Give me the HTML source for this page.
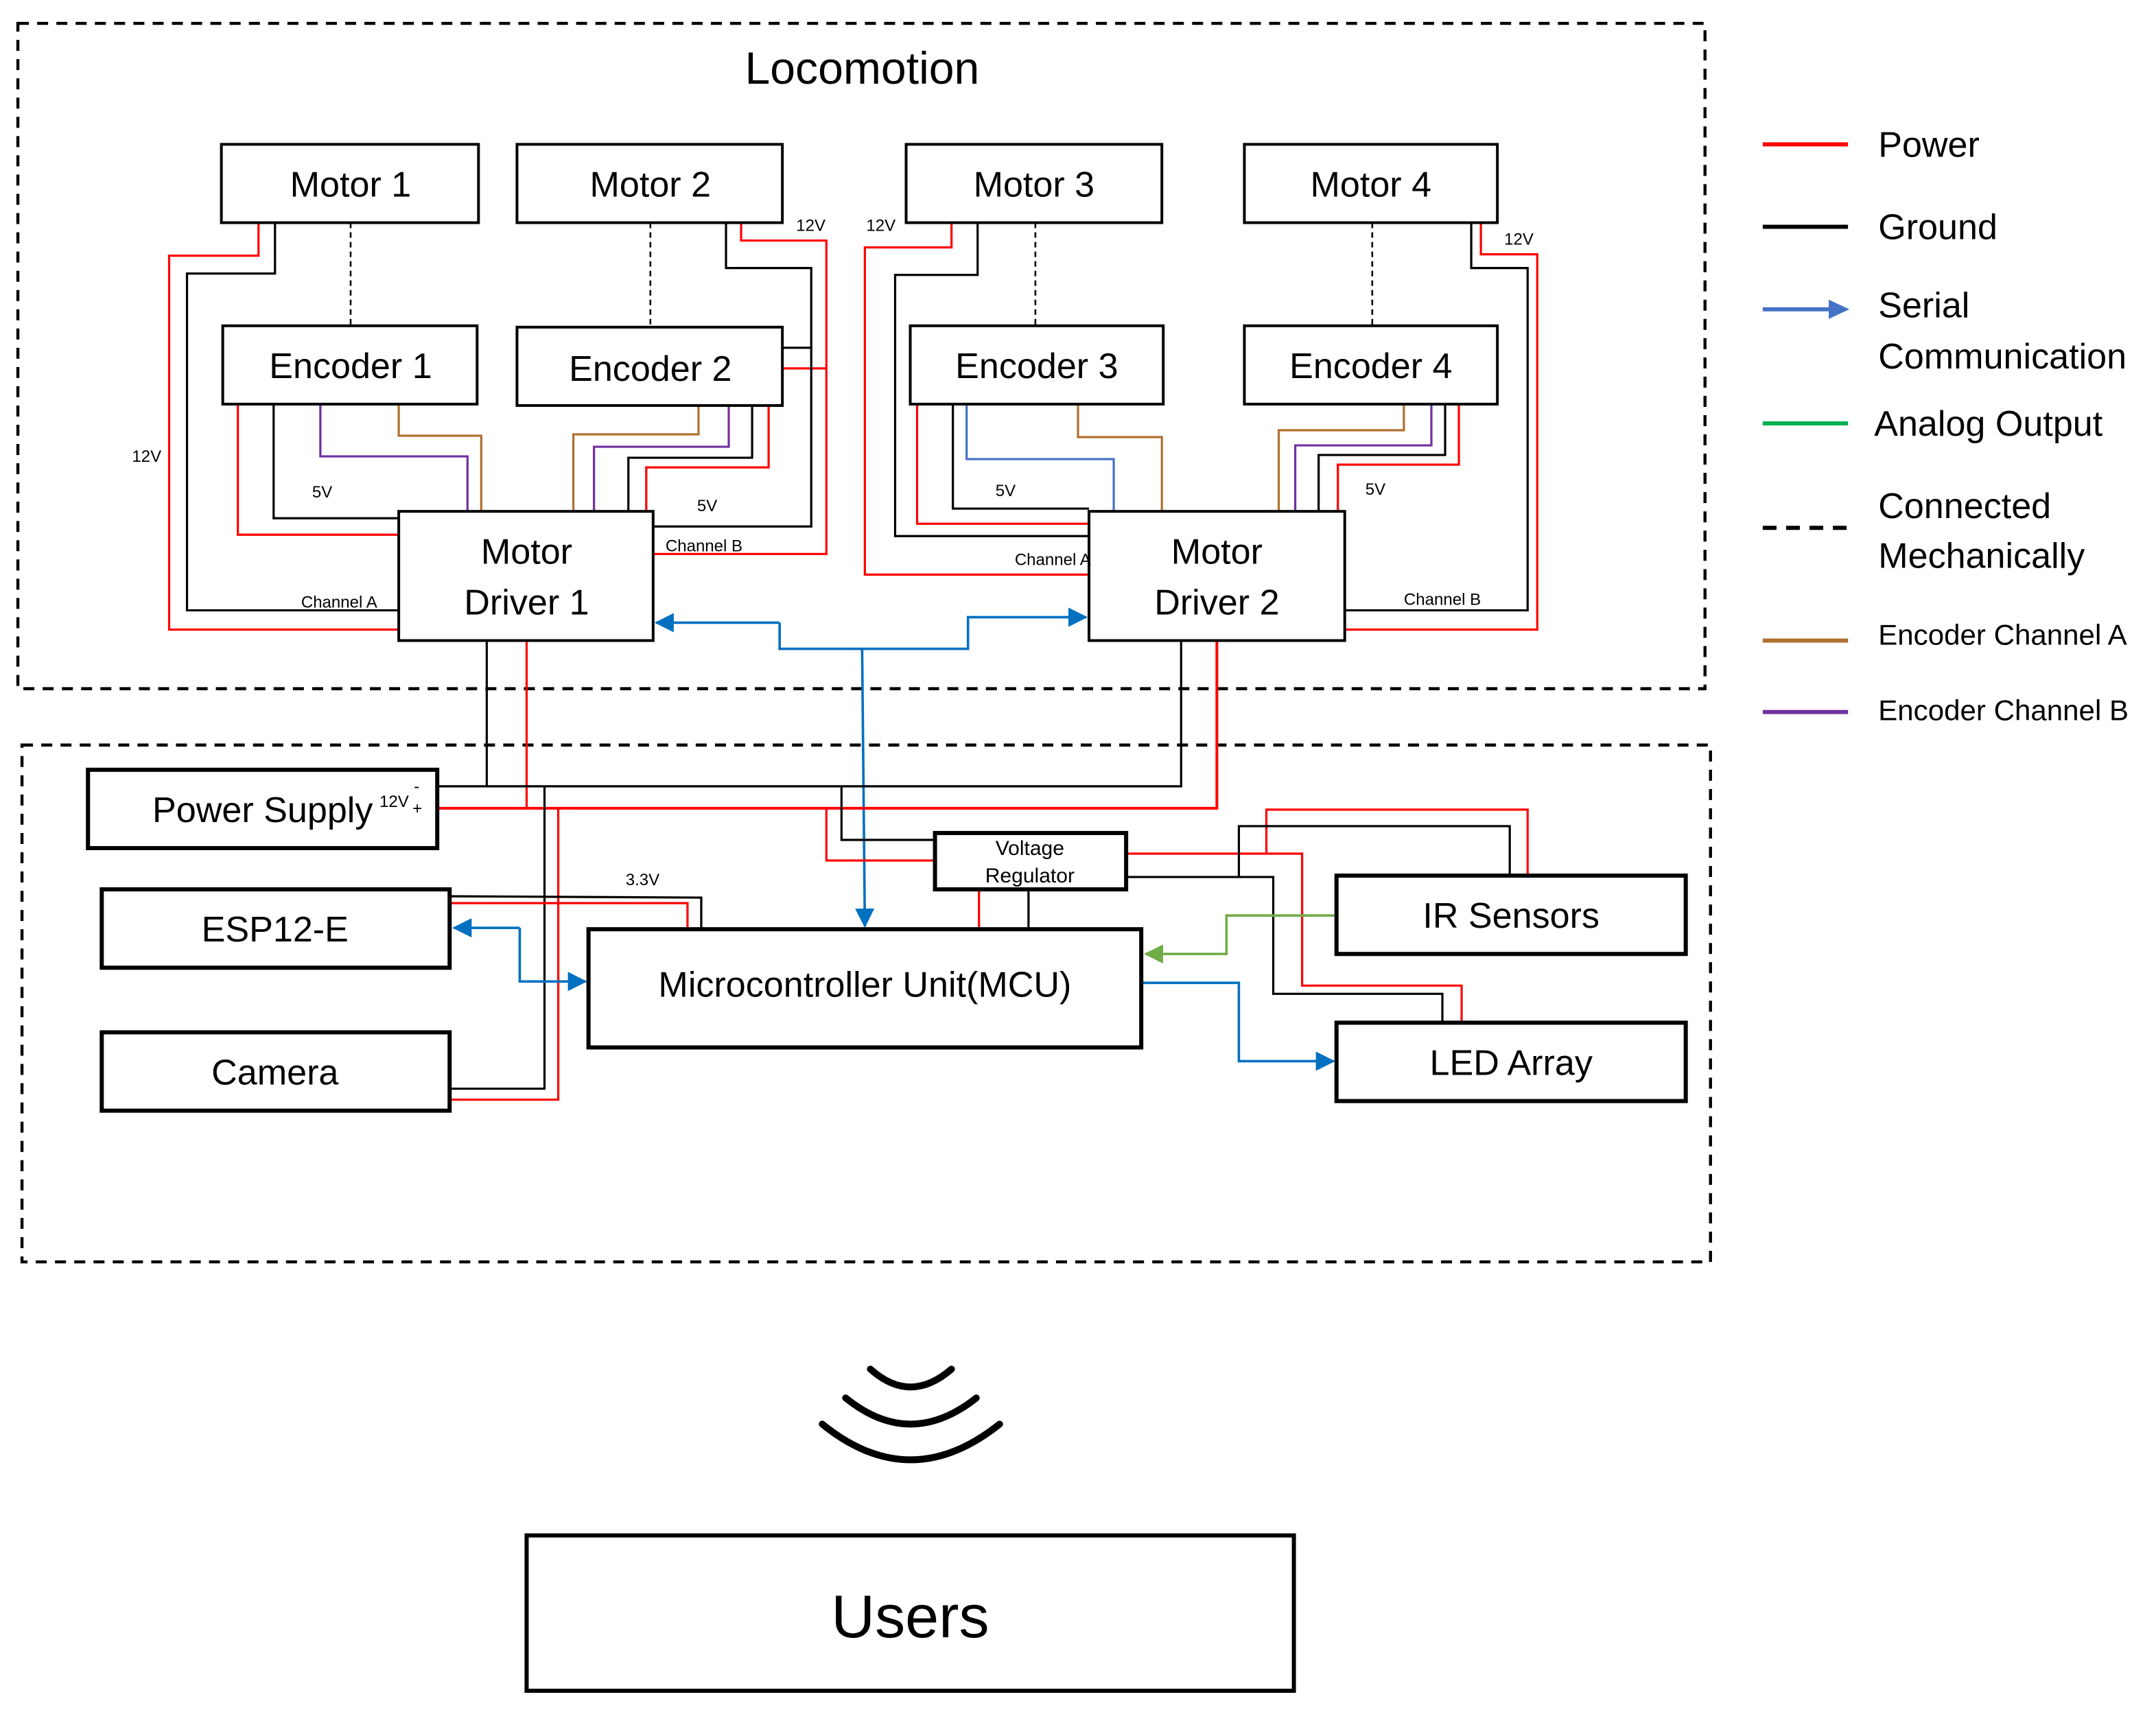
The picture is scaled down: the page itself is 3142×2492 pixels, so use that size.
<!DOCTYPE html>
<html><head><meta charset="utf-8"><style>
html,body{margin:0;padding:0;background:#fff}
svg{display:block}
text{font-family:"Liberation Sans",sans-serif;fill:#000}
</style></head><body>
<svg width="3142" height="2492" viewBox="0 0 1568 1244" preserveAspectRatio="none" xmlns="http://www.w3.org/2000/svg">
<defs>
<marker id="ab" markerWidth="14" markerHeight="14" refX="13" refY="7" orient="auto" markerUnits="userSpaceOnUse"><path d="M0,0 L14,7 L0,14 z" fill="#0070c0"/></marker>
<marker id="ag" markerWidth="14" markerHeight="14" refX="13" refY="7" orient="auto" markerUnits="userSpaceOnUse"><path d="M0,0 L14,7 L0,14 z" fill="#70ad47"/></marker>
</defs>
<rect x="0" y="0" width="1568" height="1244" fill="#fff"/>
<rect x="13" y="17" width="1227" height="484" fill="none" stroke="#000" stroke-width="2.2" stroke-dasharray="8,6"/>
<rect x="16" y="542" width="1228" height="376" fill="none" stroke="#000" stroke-width="2.2" stroke-dasharray="8,6"/>
<text x="627" y="61" font-size="33" text-anchor="middle">Locomotion</text>

<g fill="none" stroke-width="1.6">
<g stroke="#000" stroke-dasharray="4,3" stroke-width="1.3">
<line x1="255" y1="162" x2="255" y2="237"/><line x1="473" y1="162" x2="473" y2="238"/>
<line x1="753" y1="162" x2="753" y2="237"/><line x1="998" y1="162" x2="998" y2="237"/>
</g>
<polyline stroke="#f00" points="188,162 188,186 123,186 123,458 290,458"/>
<polyline stroke="#000" points="200,162 200,199 136,199 136,444 290,444"/>
<polyline stroke="#f00" points="173,294 173,389 290,389"/>
<polyline stroke="#000" points="199,294 199,377 290,377"/>
<polyline stroke="#7030a0" points="233,294 233,332 340,332 340,372"/>
<polyline stroke="#b07030" points="290,294 290,317 350,317 350,372"/>
<polyline stroke="#b07030" points="508,295 508,316 417,316 417,372"/>
<polyline stroke="#7030a0" points="530,295 530,325 432,325 432,372"/>
<polyline stroke="#000" points="547,295 547,333 457,333 457,372"/>
<polyline stroke="#f00" points="559,295 559,340 470,340 470,372"/>
<polyline stroke="#f00" points="539,162 539,175 601,175 601,403 475,403"/>
<line stroke="#f00" x1="569" y1="268" x2="601" y2="268"/>
<polyline stroke="#000" points="528,162 528,195 590,195 590,383 475,383"/>
<line stroke="#000" x1="569" y1="253" x2="590" y2="253"/>
<polyline stroke="#f00" points="692,162 692,180 629,180 629,418 792,418"/>
<polyline stroke="#000" points="711,162 711,200 651,200 651,390 792,390"/>
<polyline stroke="#f00" points="667,294 667,381 792,381"/>
<polyline stroke="#000" points="693,294 693,370 792,370"/>
<polyline stroke="#4472c4" points="703,294 703,334 810,334 810,372"/>
<polyline stroke="#b07030" points="784,294 784,318 845,318 845,372"/>
<polyline stroke="#b07030" points="1021,294 1021,313 930,313 930,372"/>
<polyline stroke="#7030a0" points="1041,294 1041,324 942,324 942,372"/>
<polyline stroke="#000" points="1051,294 1051,331 959,331 959,372"/>
<polyline stroke="#f00" points="1061,294 1061,338 973,338 973,372"/>
<polyline stroke="#f00" points="1077,162 1077,185 1118,185 1118,458 978,458"/>
<polyline stroke="#000" points="1070,162 1070,195 1111,195 1111,444 978,444"/>

<polyline stroke="#0070c0" stroke-width="1.8" points="567,453 567,472 704,472 704,449 790,449" marker-end="url(#ab)"/>
<polyline stroke="#0070c0" stroke-width="1.8" points="567,453 477,453" marker-end="url(#ab)"/>
<polyline stroke="#0070c0" stroke-width="1.8" points="627,472 629,674" marker-end="url(#ab)"/>

<polyline stroke="#000" points="354,466 354,572"/>
<polyline stroke="#f00" points="383,466 383,588"/>
<polyline stroke="#000" points="859,466 859,572 318,572"/>
<polyline stroke="#f00" stroke-width="2" points="885,466 885,588 318,588"/>
<polyline stroke="#000" points="327,792 396,792 396,572"/>
<polyline stroke="#f00" points="327,800 406,800 406,588"/>
<polyline stroke="#000" points="327,652 510,653 510,676"/>
<polyline stroke="#f00" points="327,657 500,657 500,676"/>
<polyline stroke="#000" points="612,572 612,611 680,611"/>
<polyline stroke="#f00" points="601,588 601,626 680,626"/>
<line stroke="#f00" x1="712" y1="647" x2="712" y2="676"/>
<line stroke="#000" x1="748" y1="647" x2="748" y2="676"/>
<polyline stroke="#f00" points="819,621 947,621 947,717 1063,717 1063,744"/>
<polyline stroke="#000" points="819,638 926,638 926,723 1049,723 1049,744"/>
<polyline stroke="#f00" points="1111,637 1111,589 921,589 921,621"/>
<polyline stroke="#000" points="1098,637 1098,601 901,601 901,638"/>
<polyline stroke="#70ad47" stroke-width="1.8" points="972,666 892,666 892,694 833,694" marker-end="url(#ag)"/>
<polyline stroke="#0070c0" stroke-width="1.8" points="830,715 901,715 901,772 970,772" marker-end="url(#ab)"/>
<polyline stroke="#0070c0" stroke-width="1.8" points="378,675 330,675" marker-end="url(#ab)"/>
<polyline stroke="#0070c0" stroke-width="1.8" points="378,675 378,714 426,714" marker-end="url(#ab)"/>
</g>

<g fill="#fff" stroke="#000" stroke-width="2">
<rect x="161" y="105" width="187" height="57"/>
<rect x="376" y="105" width="193" height="57"/>
<rect x="659" y="105" width="186" height="57"/>
<rect x="905" y="105" width="184" height="57"/>
<rect x="162" y="237" width="185" height="57"/>
<rect x="376" y="238" width="193" height="57"/>
<rect x="662" y="237" width="184" height="57"/>
<rect x="905" y="237" width="184" height="57"/>
<rect x="290" y="372" width="185" height="94"/>
<rect x="792" y="372" width="186" height="94"/>
</g>
<g fill="#fff" stroke="#000" stroke-width="3">
<rect x="64" y="560" width="254" height="57"/>
<rect x="74" y="647" width="253" height="57"/>
<rect x="74" y="751" width="253" height="57"/>
<rect x="428" y="676" width="402" height="86"/>
<rect x="680" y="606" width="139" height="41"/>
<rect x="972" y="637" width="254" height="57"/>
<rect x="972" y="744" width="254" height="57"/>
<rect x="383" y="1117" width="558" height="113"/>
</g>

<g font-size="26" text-anchor="middle">
<text x="255" y="143">Motor 1</text><text x="473" y="143">Motor 2</text>
<text x="752" y="143">Motor 3</text><text x="997" y="143">Motor 4</text>
<text x="255" y="275">Encoder 1</text><text x="473" y="277">Encoder 2</text>
<text x="754" y="275">Encoder 3</text><text x="997" y="275">Encoder 4</text>
<text x="383" y="410">Motor</text><text x="383" y="447">Driver 1</text>
<text x="885" y="410">Motor</text><text x="885" y="447">Driver 2</text>
<text x="191" y="598">Power Supply</text>
<text x="200" y="685">ESP12-E</text>
<text x="200" y="789">Camera</text>
<text x="629" y="725">Microcontroller Unit(MCU)</text>
<text x="1099" y="675">IR Sensors</text>
<text x="1099" y="782">LED Array</text>
</g>
<text x="662" y="1191" font-size="44" text-anchor="middle">Users</text>
<text x="749" y="622" font-size="15" text-anchor="middle">Voltage</text>
<text x="749" y="642" font-size="15" text-anchor="middle">Regulator</text>
<g font-size="12">
<text x="276" y="587">12V</text><text x="300" y="592">+</text><text x="301" y="576">-</text>
<text x="96" y="336">12V</text><text x="227" y="362">5V</text><text x="219" y="442">Channel A</text>
<text x="507" y="372">5V</text><text x="484" y="401">Channel B</text><text x="579" y="168">12V</text>
<text x="630" y="168">12V</text><text x="724" y="361">5V</text><text x="738" y="411">Channel A</text>
<text x="993" y="360">5V</text><text x="1021" y="440">Channel B</text><text x="1094" y="178">12V</text>
<text x="455" y="644">3.3V</text>
</g>

<g fill="none" stroke="#000" stroke-width="5" stroke-linecap="round">
<path d="M633,996 Q662,1022 692,996"/>
<path d="M615,1017 Q662,1055 710,1017"/>
<path d="M598,1036 Q662,1088 727,1036"/>
</g>

<g stroke-width="3">
<line x1="1282" y1="105" x2="1344" y2="105" stroke="#f00"/>
<line x1="1282" y1="165" x2="1344" y2="165" stroke="#000"/>
<line x1="1282" y1="225" x2="1334" y2="225" stroke="#4472c4"/>
<path d="M1330,218 L1345,225 L1330,232z" fill="#4472c4"/>
<line x1="1282" y1="308" x2="1344" y2="308" stroke="#00b050"/>
<line x1="1282" y1="384" x2="1344" y2="384" stroke="#000" stroke-dasharray="10,7"/>
<line x1="1282" y1="466" x2="1344" y2="466" stroke="#b07030"/>
<line x1="1282" y1="518" x2="1344" y2="518" stroke="#7030a0"/>
</g>
<g font-size="26">
<text x="1366" y="114">Power</text>
<text x="1366" y="174">Ground</text>
<text x="1366" y="231">Serial</text>
<text x="1366" y="268">Communication</text>
<text x="1363" y="317">Analog Output</text>
<text x="1366" y="377">Connected</text>
<text x="1366" y="413">Mechanically</text>
</g>
<g font-size="21">
<text x="1366" y="469">Encoder Channel A</text>
<text x="1366" y="524">Encoder Channel B</text>
</g>
</svg>
</body></html>
